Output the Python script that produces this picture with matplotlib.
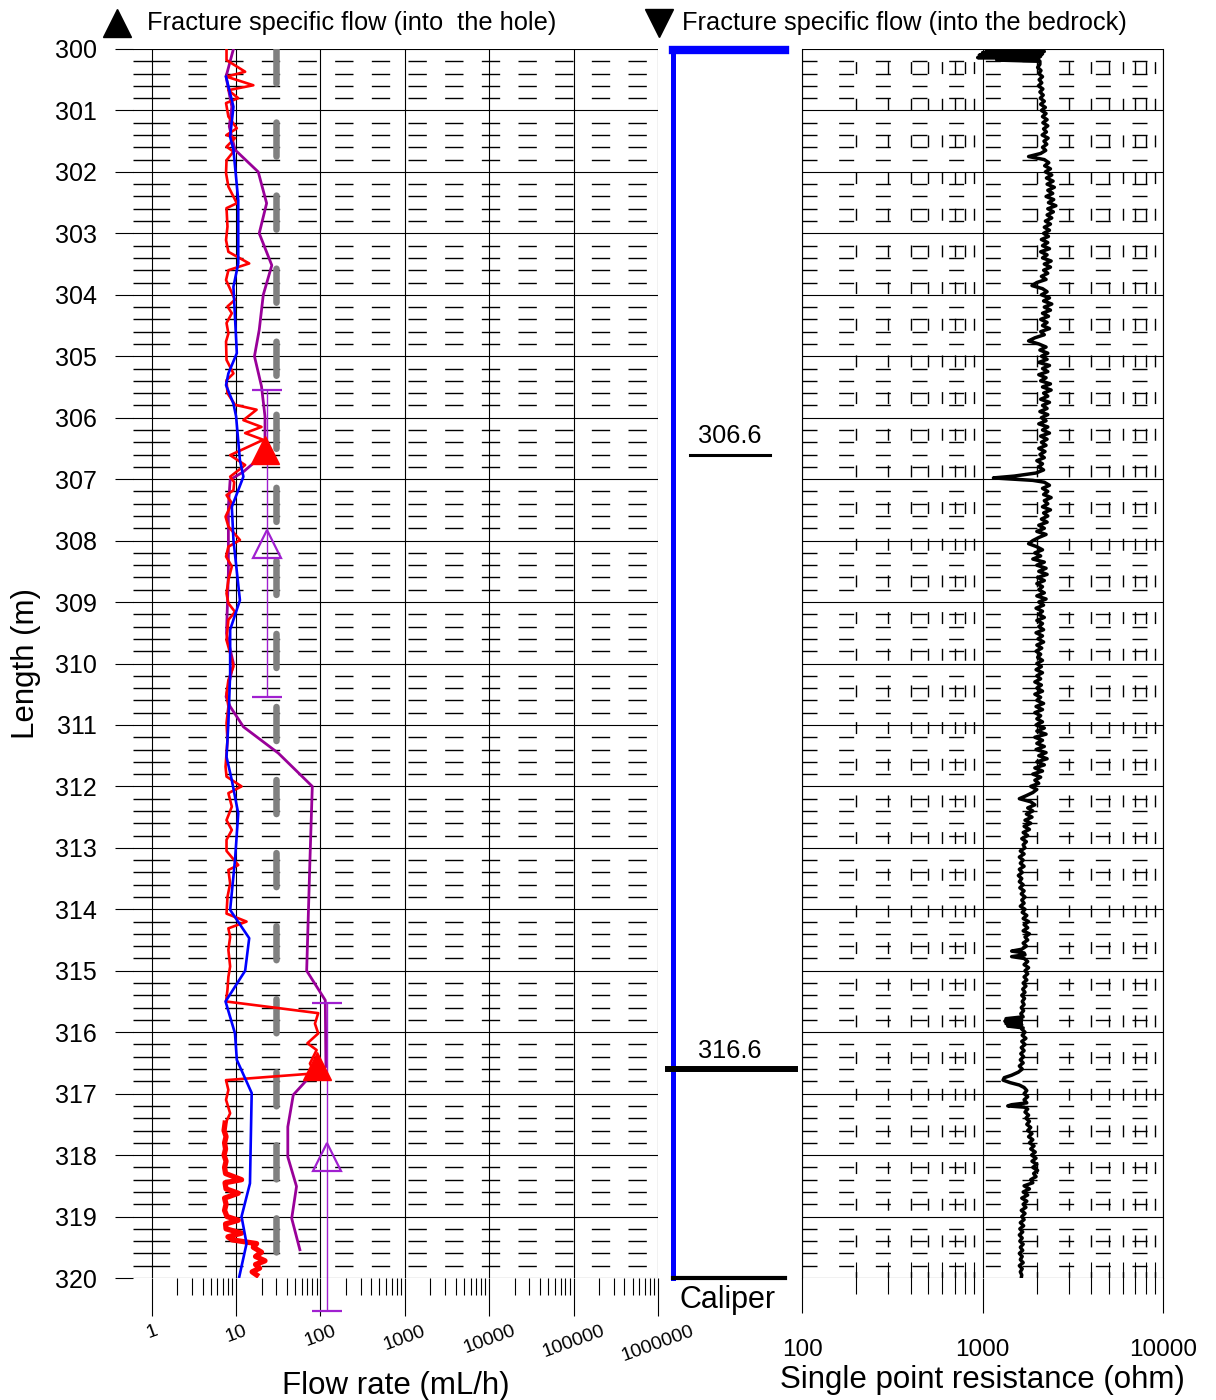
import numpy as np
import matplotlib
matplotlib.use("Agg")
import matplotlib.pyplot as plt
from matplotlib.lines import Line2D
from matplotlib.ticker import LogLocator, FixedLocator, MultipleLocator, NullFormatter

plt.rcParams["font.family"] = ["Liberation Sans", "DejaVu Sans"]
plt.rcParams["lines.scale_dashes"] = False

# ---- flow logging (mL/h) versus borehole length (m) ----
RED_DEPTH = [300.0, 300.18, 300.37, 300.45, 300.59, 300.67, 300.8, 300.88, 301.1,
             301.29, 301.4, 301.45, 301.59, 301.67, 301.81, 302.02, 302.24, 302.51,
             302.59, 302.89, 303.11, 303.3, 303.49, 303.6, 303.76, 304.08, 304.19,
             304.3, 304.46, 304.63, 304.76, 305.06, 305.28, 305.39, 305.6, 305.79,
             305.87, 306.04, 306.15, 306.25, 306.36, 306.61, 306.77, 306.96, 307.05,
             307.18, 307.26, 307.39, 307.61, 307.77, 307.99, 308.1, 308.26, 308.42,
             308.64, 308.86, 309.02, 309.16, 309.29, 309.62, 309.83, 310.05, 310.27,
             310.49, 310.7, 310.97, 311.25, 311.68, 311.84, 312.0, 312.11, 312.33,
             312.55, 312.71, 312.87, 313.05, 313.28, 313.36, 313.58, 313.8, 314.07,
             314.2, 314.31, 314.45, 314.66, 314.93, 315.1, 315.31, 315.5, 315.69,
             315.86, 316.02, 316.18, 316.29, 316.51, 316.67, 316.78, 316.94, 317.1,
             317.32, 317.48]
RED_FLOW = [7.7, 7.7, 12.8, 7.7, 16.0, 8.1, 10.6, 7.6, 8.1,
            10.2, 7.7, 9.7, 7.7, 9.3, 7.7, 7.6, 8.1, 10.2,
            7.7, 7.9, 7.6, 8.1, 14.3, 8.1, 7.6, 9.7, 7.9,
            8.9, 7.7, 8.1, 7.6, 7.7, 9.3, 7.7, 7.9, 9.7,
            17.5, 12.2, 20.0, 12.8, 21.0, 8.5, 12.8, 8.5, 9.5,
            9.3, 7.7, 8.9, 7.5, 8.1, 11.1, 8.1, 7.6, 8.9,
            8.1, 7.7, 8.1, 9.7, 8.1, 7.7, 8.5, 9.3, 8.1,
            7.7, 8.1, 7.7, 7.9, 7.5, 7.7, 11.6, 8.1, 8.9,
            7.7, 8.9, 7.7, 7.7, 10.6, 8.1, 8.5, 7.9, 7.7,
            13.3, 8.1, 8.5, 8.1, 8.5, 8.1, 7.9, 7.6, 94.0,
            86.0, 94.0, 70.0, 90.0, 75.0, 86.0, 7.6, 8.1, 7.6,
            8.5, 7.5]

# densely sampled interval near the bottom of the hole
RED_DENSE_DEPTH = [317.48, 317.6, 317.7, 317.8, 317.9, 318.0, 318.1, 318.2, 318.3,
                   318.4, 318.45, 318.55, 318.62, 318.7, 318.8, 318.9, 319.0, 319.06,
                   319.12, 319.2, 319.27, 319.33, 319.38, 319.44, 319.5, 319.58,
                   319.65, 319.72, 319.78, 319.84, 319.9, 319.95]
RED_DENSE_FLOW = [7.4, 7.2, 7.6, 7.3, 7.5, 7.2, 7.6, 7.3, 7.5,
                  11.6, 7.4, 7.6, 10.6, 7.3, 7.6, 7.3, 7.8, 10.6,
                  7.5, 7.6, 11.6, 8.0, 9.0, 17.5, 16.0, 20.0,
                  17.0, 22.0, 17.0, 19.0, 15.5, 17.5]

BLUE_DEPTH = [300.45, 300.94, 301.43, 301.64, 302.46, 303.49, 303.87, 304.36, 304.95,
              305.28, 305.47, 305.77, 305.98, 306.69, 306.96, 307.18, 307.45, 307.99,
              308.97, 309.45, 310.16, 310.97, 311.52, 311.9, 312.44, 313.2, 314.01,
              314.47, 315.0, 315.5, 316.02, 316.45, 316.99, 318.46, 319.0, 319.44,
              319.98]
BLUE_FLOW = [7.6, 9.3, 8.5, 9.3, 10.6, 10.6, 9.3, 9.7, 10.2,
             8.1, 7.6, 9.3, 10.0, 11.1, 12.2, 10.6, 8.9, 9.3,
             11.1, 8.5, 8.5, 8.1, 7.7, 8.9, 10.6, 9.7, 8.5,
             14.3, 12.8, 7.5, 9.7, 10.2, 15.3, 14.6, 11.6, 13.3,
             10.9]

PURPLE_DEPTH = [300.0, 300.45, 300.94, 301.26, 301.64, 302.0, 302.51, 303.0, 303.52,
                304.0, 304.57, 305.0, 305.49, 305.98, 306.58, 306.88, 307.01, 307.45,
                308.53, 309.51, 310.0, 310.54, 310.7, 311.03, 311.46, 312.0, 313.2,
                315.0, 315.48, 316.56, 316.78, 317.02, 317.54, 318.03, 318.51, 319.03,
                319.54]
PURPLE_FLOW = [9.3, 7.6, 8.9, 8.3, 9.7, 18.3, 23.0, 18.8, 26.5,
               21.0, 18.8, 16.5, 20.0, 22.0, 22.0, 12.2, 8.5, 8.1,
               8.1, 7.7, 9.3, 7.6, 8.5, 12.2, 31.7, 80.0, 75.0,
               68.6, 114.0, 116.0, 68.6, 47.6, 41.0, 41.0, 52.0, 45.6,
               57.0]

LOWER_LIMIT_FLOW = 30.0

# fracture specific flow into the hole
FRAC_DEPTH = [306.53, 316.55]
FRAC_FLOW = [22.0, 90.0]

# flow into the bedrock, bars show the tested section
SECTION_CENTER = [308.05, 318.03]
SECTION_FLOW = [23.0, 118.0]
SECTION_HALF = [2.5, 2.5]

# ---- caliper ----
CAL_DEPTH = [300.02, 300.02, 320.0]
CAL_VALUE = [0.89, 0.09, 0.09]
CAL_BASE = 320.0
CAL_FRACTURES = [306.6, 316.6]

# ---- single point resistance (length m, ohm) ----
RES_SAMPLES = [
    (300.00, 2100), (300.02, 1050), (300.04, 2200), (300.06, 1000), (300.08, 2150),
    (300.10, 960), (300.12, 2100), (300.14, 940), (300.16, 2050), (300.18, 1200),
    (300.20, 2080),
    (300.25, 2080), (300.30, 2020), (300.35, 2110), (300.40, 2050), (300.45, 2150),
    (300.50, 2060), (300.55, 2130), (300.60, 2040), (300.65, 2160), (300.70, 2080),
    (300.75, 2170), (300.80, 2090), (300.85, 2200), (300.90, 2100), (300.95, 2230),
    (301.00, 2120), (301.05, 2250), (301.10, 2150), (301.15, 2280), (301.20, 2160),
    (301.25, 2300), (301.30, 2180), (301.35, 2260), (301.40, 2140), (301.45, 2310),
    (301.50, 2190), (301.55, 2270), (301.60, 2150), (301.65, 2240), (301.70, 2100),
    (301.75, 1800), (301.80, 2200), (301.85, 2330), (301.90, 2210), (301.95, 2380),
    (302.00, 2230), (302.05, 2420), (302.10, 2260), (302.15, 2460), (302.20, 2280),
    (302.25, 2500), (302.30, 2300), (302.35, 2450), (302.40, 2250), (302.45, 2480),
    (302.50, 2320), (302.55, 2550), (302.60, 2300), (302.65, 2470), (302.70, 2280),
    (302.75, 2420), (302.80, 2230), (302.85, 2380), (302.90, 2200), (302.95, 2350),
    (303.00, 2180), (303.05, 2320), (303.10, 2120), (303.15, 2300), (303.20, 2150),
    (303.25, 2350), (303.30, 2100), (303.35, 2280), (303.40, 2150), (303.45, 2400),
    (303.50, 2200), (303.55, 2380), (303.60, 2180), (303.65, 2300), (303.70, 2120),
    (303.75, 2250), (303.80, 2000), (303.85, 1880), (303.90, 2150), (303.95, 2280),
    (304.00, 2120), (304.05, 2350), (304.10, 2180), (304.15, 2420), (304.20, 2200),
    (304.25, 2380), (304.30, 2150), (304.35, 2320), (304.40, 2100), (304.45, 2280),
    (304.50, 2150), (304.55, 2350), (304.60, 2100), (304.65, 2200), (304.70, 1950),
    (304.75, 1800), (304.80, 2050), (304.85, 2250), (304.90, 2080), (304.95, 2300),
    (305.00, 2120), (305.05, 2280), (305.10, 2050), (305.15, 2350), (305.20, 2150),
    (305.25, 2300), (305.30, 2050), (305.35, 2250), (305.40, 2100), (305.45, 2380),
    (305.50, 2150), (305.55, 2400), (305.60, 2180), (305.65, 2300), (305.70, 2100),
    (305.75, 2350), (305.80, 2150), (305.85, 2280), (305.90, 2080), (305.95, 2300),
    (306.00, 2120), (306.05, 2250), (306.10, 2050), (306.15, 2300), (306.20, 2150),
    (306.25, 2350), (306.30, 2100), (306.35, 2280), (306.40, 2120), (306.45, 2250),
    (306.50, 2050), (306.55, 2220), (306.60, 2080), (306.65, 2200), (306.70, 2000),
    (306.75, 2150), (306.80, 2050), (306.85, 2180), (306.90, 1980), (306.95, 1500),
    (306.98, 1150), (307.02, 1900), (307.05, 2200), (307.10, 2350), (307.15, 2150),
    (307.20, 2300), (307.25, 2180), (307.30, 2400), (307.35, 2200), (307.40, 2300),
    (307.45, 2150), (307.50, 2380), (307.55, 2180), (307.60, 2300), (307.65, 2120),
    (307.70, 2280), (307.75, 2050), (307.80, 2200), (307.85, 2000), (307.90, 2250),
    (307.95, 2050), (308.00, 1900), (308.05, 1800), (308.10, 2000), (308.15, 2150),
    (308.20, 1950), (308.25, 2100), (308.30, 1900), (308.35, 2200), (308.40, 2000),
    (308.45, 2250), (308.50, 2050), (308.55, 2280), (308.60, 2020), (308.65, 2200),
    (308.70, 2000), (308.75, 2150), (308.80, 2050), (308.85, 2200), (308.90, 2000),
    (308.95, 2250), (309.00, 2050), (309.05, 2180), (309.10, 1980), (309.15, 2150),
    (309.20, 2050), (309.25, 2200), (309.30, 2000), (309.35, 2150), (309.40, 2050),
    (309.45, 2180), (309.50, 1980), (309.55, 2150), (309.60, 2030), (309.65, 2180),
    (309.70, 2000), (309.75, 2130), (309.80, 1980), (309.85, 2100), (309.90, 2020),
    (309.95, 2150), (310.00, 2000), (310.05, 2120), (310.10, 1980), (310.15, 2150),
    (310.20, 2000), (310.25, 2100), (310.30, 1950), (310.35, 2120), (310.40, 2000),
    (310.45, 2150), (310.50, 1950), (310.55, 2100), (310.60, 2000), (310.65, 2180),
    (310.70, 1980), (310.75, 2150), (310.80, 1950), (310.85, 2100), (310.90, 2000),
    (310.95, 2150), (311.00, 1980), (311.05, 2200), (311.10, 2000), (311.15, 2250),
    (311.20, 1950), (311.25, 2150), (311.30, 2000), (311.35, 2200), (311.40, 1980),
    (311.45, 2250), (311.50, 2050), (311.55, 2280), (311.60, 2000), (311.65, 2200),
    (311.70, 1950), (311.75, 2150), (311.80, 1900), (311.85, 2100), (311.90, 1950),
    (311.95, 2050), (312.00, 1850), (312.05, 2000), (312.10, 1900), (312.15, 1750),
    (312.20, 1600), (312.25, 1850), (312.30, 1950), (312.35, 1780), (312.40, 1900),
    (312.45, 1750), (312.50, 1880), (312.55, 1720), (312.60, 1850), (312.65, 1700),
    (312.70, 1820), (312.75, 1680), (312.80, 1780), (312.85, 1650), (312.90, 1750),
    (312.95, 1680), (313.00, 1720), (313.05, 1620), (313.10, 1700), (313.15, 1600),
    (313.20, 1680), (313.25, 1620), (313.30, 1700), (313.35, 1600), (313.40, 1660),
    (313.45, 1580), (313.50, 1650), (313.55, 1600), (313.60, 1680), (313.65, 1610),
    (313.70, 1700), (313.75, 1640), (313.80, 1720), (313.85, 1650), (313.90, 1700),
    (313.95, 1620), (314.00, 1720), (314.05, 1660), (314.10, 1760), (314.15, 1680),
    (314.20, 1800), (314.25, 1700), (314.30, 1780), (314.35, 1680), (314.40, 1820),
    (314.45, 1720), (314.50, 1780), (314.55, 1680), (314.60, 1750), (314.65, 1650),
    (314.68, 1450), (314.71, 1700), (314.74, 1720), (314.77, 1450), (314.80, 1700),
    (314.85, 1780), (314.90, 1700), (314.95, 1800), (315.00, 1720), (315.05, 1780),
    (315.10, 1700), (315.15, 1760), (315.20, 1680), (315.25, 1740), (315.30, 1670),
    (315.35, 1720), (315.40, 1650), (315.45, 1710), (315.50, 1660), (315.55, 1700),
    (315.60, 1640), (315.65, 1690), (315.70, 1630), (315.75, 1680), (315.78, 1350),
    (315.80, 1650), (315.82, 1330), (315.84, 1640), (315.86, 1350), (315.88, 1650),
    (315.90, 1380), (315.93, 1680), (315.95, 1650), (316.00, 1720), (316.05, 1660),
    (316.10, 1740), (316.15, 1650), (316.20, 1720), (316.25, 1640), (316.30, 1700),
    (316.35, 1630), (316.40, 1690), (316.45, 1620), (316.50, 1680), (316.55, 1600),
    (316.60, 1660), (316.65, 1580), (316.70, 1450), (316.74, 1320), (316.78, 1300),
    (316.82, 1420), (316.86, 1600), (316.90, 1700), (316.95, 1760), (317.00, 1700),
    (317.05, 1780), (317.10, 1700), (317.15, 1760), (317.18, 1450), (317.20, 1380),
    (317.22, 1700), (317.25, 1780), (317.30, 1720), (317.35, 1800), (317.40, 1740),
    (317.45, 1820), (317.50, 1760), (317.55, 1850), (317.60, 1780), (317.65, 1880),
    (317.70, 1800), (317.75, 1900), (317.80, 1820), (317.85, 1930), (317.90, 1850),
    (317.95, 1960), (318.00, 1870), (318.05, 1980), (318.10, 1880), (318.15, 2000),
    (318.20, 1900), (318.25, 2020), (318.30, 1920), (318.35, 1980), (318.40, 1850),
    (318.45, 1900), (318.50, 1700), (318.55, 1820), (318.60, 1680), (318.65, 1780),
    (318.70, 1650), (318.75, 1760), (318.80, 1680), (318.85, 1740), (318.90, 1640),
    (318.95, 1720), (319.00, 1650), (319.05, 1700), (319.10, 1620), (319.15, 1690),
    (319.20, 1610), (319.25, 1670), (319.30, 1600), (319.35, 1660), (319.40, 1610),
    (319.45, 1680), (319.50, 1620), (319.55, 1670), (319.60, 1600), (319.65, 1660),
    (319.70, 1620), (319.75, 1680), (319.80, 1600), (319.85, 1660), (319.90, 1620),
    (319.95, 1650), (320.00, 1640),
]
RES_DEPTH = [d for d, _ in RES_SAMPLES]
RES_OHM = [r for _, r in RES_SAMPLES]

DEPTH_TICKS = list(range(300, 321))
FLOW_TICKS = [1, 10, 100, 1000, 10000, 100000, 1000000]
FLOW_TICK_LABELS = ["1", "10", "100", "1000", "10000", "100000", "1000000"]
FLOW_MINOR = [k * 10.0 ** e for e in range(6) for k in range(2, 10)]
RES_TICKS = [100, 1000, 10000]
RES_TICK_LABELS = ["100", "1000", "10000"]

W, H = 1216, 1400
fig = plt.figure(figsize=(W / 100, H / 100), dpi=100)
bottom, height = 122 / H, 1229 / H

# ---------------- flow panel ----------------
ax = fig.add_axes([133 / W, bottom, 525 / W, height])
ax.set_xscale("log")
ax.set_xlim(0.6, 1e6)
ax.set_ylim(320, 300)
for s in ax.spines.values():
    s.set_visible(False)
ax.set_yticks(DEPTH_TICKS)
ax.yaxis.set_minor_locator(MultipleLocator(0.2))
ax.set_xticks(FLOW_TICKS)
ax.set_xticklabels(FLOW_TICK_LABELS, rotation=20, fontsize=14)
ax.xaxis.set_minor_locator(FixedLocator(FLOW_MINOR))
ax.xaxis.set_minor_formatter(NullFormatter())
ax.grid(which="major", color="k", lw=0.8)
ax.grid(which="minor", axis="y", color="k", lw=1.0,
        linestyle=(13.2, (13.2, 13.2)))
ax.tick_params(axis="y", which="major", direction="out", length=13, width=0.8,
               labelsize=18, pad=13)
ax.tick_params(axis="y", which="minor", direction="in", length=13.4, width=1.0)
ax.tick_params(axis="x", which="major", direction="out", length=27, width=0.8, pad=5)
ax.tick_params(axis="x", which="minor", direction="out", length=12.5, width=0.8)
ax.set_xlabel("Flow rate (mL/h)", fontsize=22.5, labelpad=5)
ax.set_ylabel("Length (m)", fontsize=22.5, labelpad=10)

ax.plot([LOWER_LIMIT_FLOW, LOWER_LIMIT_FLOW], [300, 320], color="#808080", lw=4.7,
        dashes=(24.5, 28.1), dash_capstyle="round", zorder=3)
ax.plot(PURPLE_FLOW, PURPLE_DEPTH, color="#990099", lw=2.0, zorder=4)
ax.plot(RED_FLOW, RED_DEPTH, color="#ff0000", lw=1.9, zorder=5)
ax.plot(RED_DENSE_FLOW, RED_DENSE_DEPTH, color="#ff0000", lw=3.8, zorder=5)
ax.plot(BLUE_FLOW, BLUE_DEPTH, color="#0000ff", lw=1.9, zorder=6)
for xc, yc, hw in zip(SECTION_FLOW, SECTION_CENTER, SECTION_HALF):
    ax.errorbar([xc], [yc], yerr=[[hw], [hw]], fmt="^", ms=20, mfc="none",
                mec="#a020d0", mew=1.6, ecolor="#a020d0", elinewidth=1.0,
                capsize=11, capthick=1.0, zorder=7, clip_on=False)
ax.plot(FRAC_FLOW, FRAC_DEPTH, ls="none", marker="^", ms=20, color="#ff0000",
        zorder=8)

# ---------------- caliper panel ----------------
axc = fig.add_axes([660 / W, bottom, 140 / W, height])
axc.set_xlim(0, 1)
axc.set_ylim(320, 300)
axc.axis("off")
axc.plot(CAL_VALUE, CAL_DEPTH, color="#0000ff", lw=3.6, clip_on=False)
axc.plot(CAL_VALUE[:2], CAL_DEPTH[:2], color="#0000ff", lw=6, clip_on=False)
axc.plot([CAL_VALUE[1], CAL_VALUE[0]], [CAL_BASE, CAL_BASE], color="k", lw=3,
         clip_on=False)
axc.plot([0.214, 0.786], [CAL_FRACTURES[0]] * 2, color="k", lw=2.2)
axc.plot([0.057, 0.964], [CAL_FRACTURES[1]] * 2, color="k", lw=4.3, clip_on=False)
for d in CAL_FRACTURES:
    axc.text(0.5, d - 0.1, f"{d}", ha="center", va="bottom", fontsize=18.3)
axc.text(0.48, -0.006, "Caliper", transform=axc.transAxes, ha="center", va="top",
         fontsize=22)

# ---------------- resistance panel ----------------
axr = fig.add_axes([802 / W, bottom, 361 / W, height])
axr.set_xscale("log")
axr.set_xlim(100, 10000)
axr.set_ylim(320, 300)
axr.spines["top"].set_visible(False)
axr.spines["bottom"].set_visible(False)
axr.set_yticks(DEPTH_TICKS)
axr.yaxis.set_minor_locator(MultipleLocator(0.2))
axr.yaxis.set_major_formatter(NullFormatter())
axr.set_xticks(RES_TICKS)
axr.set_xticklabels(RES_TICK_LABELS, fontsize=17.5)
axr.xaxis.set_minor_locator(LogLocator(base=10, subs=np.arange(2, 10)))
axr.xaxis.set_minor_formatter(NullFormatter())
axr.grid(which="major", color="k", lw=0.8)
axr.grid(which="minor", axis="y", color="k", lw=1.0, linestyle=(0, (10.8, 15.6)))
axr.grid(which="minor", axis="x", color="k", lw=1.0, linestyle=(4, (8.6, 17.8)))
axr.tick_params(axis="y", which="both", length=0)
axr.tick_params(axis="x", which="major", direction="out", length=25, width=0.8, pad=19)
axr.tick_params(axis="x", which="minor", direction="inout", length=23, width=0.8)
axr.set_xlabel("Single point resistance (ohm)", fontsize=22.5, labelpad=3)
axr.plot(RES_OHM, RES_DEPTH, color="k", lw=2.5)

# ---------------- symbol key ----------------
ky = 1 - 23 / H
fig.add_artist(Line2D([117 / W], [ky], marker="^", ms=20, color="k", ls="none"))
fig.text(147 / W, ky, "Fracture specific flow (into  the hole)", fontsize=18.3,
         va="center", ha="left")
fig.add_artist(Line2D([659 / W], [ky], marker="v", ms=20, color="k", ls="none"))
fig.text(682 / W, ky, "Fracture specific flow (into the bedrock)", fontsize=18.3,
         va="center", ha="left")

fig.savefig("out.png", dpi=100)
